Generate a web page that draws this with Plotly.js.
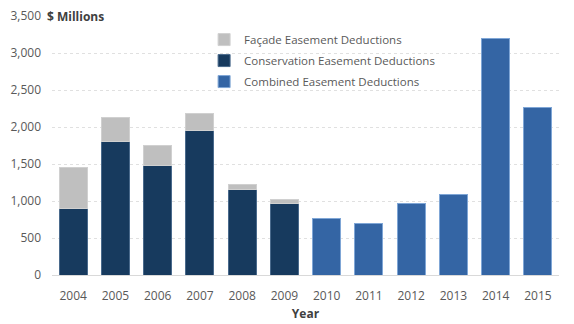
<!DOCTYPE html>
<html>
<head>
<meta charset="utf-8">
<script src="https://cdn.plot.ly/plotly-3.0.1.min.js"></script>
<style>html,body{margin:0;padding:0;background:#fff;}#chart{width:574px;height:324px;}</style>
</head>
<body>
<div id="chart"></div>
<script>
const years = ["2004","2005","2006","2007","2008","2009","2010","2011","2012","2013","2014","2015"];
const stackedYears = ["2004","2005","2006","2007","2008","2009"];
const conservation = [900, 1800, 1480, 1950, 1160, 960];
const facade = [555, 330, 275, 226, 63, 64];
const combinedYears = ["2010","2011","2012","2013","2014","2015"];
const combined = [766, 698, 973, 1085, 3199, 2266];
const seriesNames = ["Façade Easement Deductions", "Conservation Easement Deductions", "Combined Easement Deductions"];

const font = "'Open Sans', 'Noto Sans', sans-serif";
const traces = [
  {type:"bar", x: stackedYears, y: conservation, name: seriesNames[1], legendrank: 2, legendgroup:"b",
   marker:{color:"#173a5e", line:{color:"#4a6a8c", width:1}}},
  {type:"bar", x: stackedYears, y: facade, name: seriesNames[0], legendrank: 1, legendgroup:"a",
   marker:{color:"#bfbfbf", line:{color:"#d0d0d0", width:1}}},
  {type:"bar", x: combinedYears, y: combined, name: seriesNames[2], legendrank: 3, legendgroup:"c",
   marker:{color:"#3465a4", line:{color:"#7fa6d6", width:1}}}
];
const layout = {
  width:574, height:324,
  margin:{l:52, r:15, t:16, b:49},
  paper_bgcolor:"#fff", plot_bgcolor:"#fff",
  barmode:"stack", bargap:0.34,
  font:{family:font, size:12, color:"#595959"},
  showlegend:true,
  legend:{x:0.3, y:0.965, xanchor:"left", yanchor:"top", traceorder:"grouped",
          bgcolor:"rgba(0,0,0,0)", font:{size:11.5, color:"#595959"}, itemwidth:30, tracegroupgap:2},
  xaxis:{type:"category", categoryorder:"array", categoryarray: years,
         showgrid:false, showline:true, linecolor:"#d9d9d9", linewidth:1, ticks:"",
         ticklabelstandoff:10,
         tickfont:{size:12, color:"#595959"},
         title:{text:"<b>Year</b>", font:{size:12, color:"#404040"}, standoff:6}},
  yaxis:{range:[0,3500], dtick:500, tickformat:",", showgrid:true, gridcolor:"#e0e0e0",
         griddash:"dot", zeroline:false, ticks:"", ticklen:0, ticklabelstandoff:10,
         tickfont:{size:12, color:"#595959"}},
  annotations:[{xref:"paper", yref:"y", x:-0.0138, y:3500, xanchor:"left", yanchor:"middle",
    text:"<b>$ Millions</b>", showarrow:false, font:{size:12, color:"#404040"}}]
};
Plotly.newPlot("chart", traces, layout, {displayModeBar:false, staticPlot:true});
</script>
</body>
</html>
